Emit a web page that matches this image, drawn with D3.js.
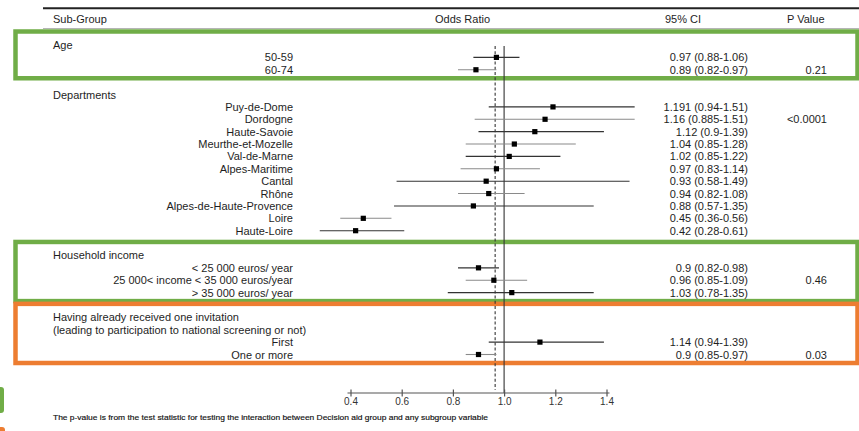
<!DOCTYPE html>
<html><head><meta charset="utf-8">
<script src="https://cdn.jsdelivr.net/npm/d3@7"></script>
<style>
html,body{margin:0;padding:0;background:#fff;}
svg{display:block;font-family:"Liberation Sans",Arial,sans-serif;}
</style></head>
<body><svg id="c" width="859" height="431"></svg>
<script>
// ---- data ----
const headers = ["Sub-Group", "Odds Ratio", "95% CI", "P Value"];
const groupNames = ["Age", "Departments", "Household income",
  "Having already received one invitation|(leading to participation to national screening or not)"];
const ageLabels = ["50-59", "60-74"];
const ageOR = [0.97, 0.89], ageLow = [0.88, 0.82], ageHigh = [1.06, 0.97];
const deptLabels = ["Puy-de-Dome", "Dordogne", "Haute-Savoie", "Meurthe-et-Mozelle", "Val-de-Marne",
  "Alpes-Maritime", "Cantal", "Rhône", "Alpes-de-Haute-Provence", "Loire", "Haute-Loire"];
const deptOR = [1.191, 1.16, 1.12, 1.04, 1.02, 0.97, 0.93, 0.94, 0.88, 0.45, 0.42];
const deptLow = [0.94, 0.885, 0.9, 0.85, 0.85, 0.83, 0.58, 0.82, 0.57, 0.36, 0.28];
const deptHigh = [1.51, 1.51, 1.39, 1.28, 1.22, 1.14, 1.49, 1.08, 1.35, 0.56, 0.61];
const incomeLabels = ["< 25 000 euros/ year", "25 000< income < 35 000 euros/year", "> 35 000 euros/ year"];
const incomeOR = [0.9, 0.96, 1.03], incomeLow = [0.82, 0.85, 0.78], incomeHigh = [0.98, 1.09, 1.35];
const invLabels = ["First", "One or more"];
const invOR = [1.14, 0.9], invLow = [0.94, 0.85], invHigh = [1.39, 0.97];
const pValues = ["0.21", "<0.0001", "0.46", "0.03"];
const overallOR = 0.965;
const tickValues = [0.4, 0.6, 0.8, 1.0, 1.2, 1.4];
const footnote = "The p-value is from the test statistic for testing the interaction between Decision aid group and any subgroup variable";

// ---- build rows ----
const blocks = [
  {labels: ageLabels, or: ageOR, lo: ageLow, hi: ageHigh, pRow: 1},
  {labels: deptLabels, or: deptOR, lo: deptLow, hi: deptHigh, pRow: 1},
  {labels: incomeLabels, or: incomeOR, lo: incomeLow, hi: incomeHigh, pRow: 1},
  {labels: invLabels, or: invOR, lo: invLow, hi: invHigh, pRow: 1}
];
const rows = [];
let k = 0;
const blockRange = [];
blocks.forEach((b, bi) => {
  const start = k;
  groupNames[bi].split("|").forEach(t => { rows.push({type: "head", text: t, idx: k}); k++; });
  b.labels.forEach((l, i) => {
    rows.push({type: "item", text: l, idx: k, or: b.or[i], lo: b.lo[i], hi: b.hi[i], alt: i % 2,
      p: (i === b.pRow ? pValues[bi] : null)});
    k++;
  });
  blockRange.push([start, k - 1]);
  k++; // blank line
});

const svg = d3.select("#c");
const y = d3.scaleLinear().domain([0, 25]).range([45, 354.5]);
const x = d3.scaleLinear().domain([0.4, 1.4]).range([350.5, 606.5]);
const ink = "#1e1e1e";

// top rules
svg.append("line").attr("x1", 43).attr("x2", 859).attr("y1", 8.3).attr("y2", 8.3)
  .attr("stroke", "#222").attr("stroke-width", 2);
svg.append("line").attr("x1", 43).attr("x2", 859).attr("y1", 28.5).attr("y2", 28.5)
  .attr("stroke", "#b5b5b5").attr("stroke-width", 1);

// headers
const hx = [53, 435, 665, 787];
headers.forEach((h, i) => svg.append("text").attr("x", hx[i]).attr("y", 19)
  .attr("dominant-baseline", "central").attr("font-size", 11).attr("fill", ink).text(h));

// highlight boxes
const boxColors = ["#70AD47", null, "#70AD47", "#ED7D31"];
blockRange.forEach((r, bi) => {
  if (!boxColors[bi]) return;
  const top = y(r[0]) - 13.5, bot = y(r[1]) + 8.5;
  svg.append("rect").attr("x", 15.5).attr("y", top).attr("width", 842).attr("height", bot - top)
    .attr("fill", "none").attr("stroke", boxColors[bi]).attr("stroke-width", 4.5);
});
// cut-off shapes at left edge
svg.append("rect").attr("x", -10).attr("y", 387).attr("width", 14).attr("height", 26).attr("rx", 3)
  .attr("fill", "#70AD47");
svg.append("rect").attr("x", -10).attr("y", 427).attr("width", 15).attr("height", 10).attr("rx", 3)
  .attr("fill", "#ED7D31");

// reference lines
const yTopRef = 46, yAxis = 393;
svg.append("line").attr("x1", x(1)).attr("x2", x(1)).attr("y1", yTopRef).attr("y2", yAxis)
  .attr("stroke", "#333").attr("stroke-width", 1.1);
svg.append("line").attr("x1", x(overallOR)).attr("x2", x(overallOR)).attr("y1", yTopRef).attr("y2", 390)
  .attr("stroke", "#333").attr("stroke-width", 1.1).attr("stroke-dasharray", "3,2.2");

// row texts
rows.forEach(r => {
  if (r.type === "head") {
    svg.append("text").attr("x", 53).attr("y", y(r.idx)).attr("dominant-baseline", "central")
      .attr("font-size", 11).attr("fill", ink).text(r.text);
  } else {
    svg.append("text").attr("x", 293).attr("y", y(r.idx)).attr("dominant-baseline", "central")
      .attr("text-anchor", "end").attr("font-size", 11).attr("fill", ink).text(r.text);
    svg.append("text").attr("x", 748).attr("y", y(r.idx)).attr("dominant-baseline", "central")
      .attr("text-anchor", "end").attr("font-size", 11).attr("fill", ink)
      .text(`${r.or} (${r.lo}-${r.hi})`);
    if (r.p) svg.append("text").attr("x", 827).attr("y", y(r.idx)).attr("dominant-baseline", "central")
      .attr("text-anchor", "end").attr("font-size", 11).attr("fill", ink).text(r.p);
  }
});

// CI lines and markers
const items = rows.filter(r => r.type === "item");
svg.append("g").selectAll("line").data(items).join("line")
  .attr("x1", d => x(d.lo)).attr("x2", d => x(d.hi))
  .attr("y1", d => y(d.idx)).attr("y2", d => y(d.idx))
  .attr("stroke", d => d.alt ? "#8a8a8a" : "#333").attr("stroke-width", 1.1);
svg.append("g").selectAll("rect").data(items).join("rect")
  .attr("x", d => x(d.or) - 2.6).attr("y", d => y(d.idx) - 2.6)
  .attr("width", 5.2).attr("height", 5.2).attr("fill", "#000");

// axis
const axis = d3.axisBottom(x).tickValues(tickValues).tickFormat(d3.format(".1f")).tickSize(0).tickPadding(5);
const ag = svg.append("g").attr("transform", `translate(0,${yAxis})`).call(axis);
ag.select(".domain").remove();
ag.append("line").attr("x1", x(0.4) - 3).attr("x2", x(1.4) + 3).attr("stroke", "#555").attr("stroke-width", 1.2);
ag.selectAll(".tick").append("line").attr("y1", -3.5).attr("y2", 3.5).attr("stroke", "#555").attr("stroke-width", 1.2);
ag.selectAll(".tick text").attr("font-size", 10).attr("fill", "#333")
  .attr("font-family", "Liberation Sans, Arial, sans-serif");

// footnote
svg.append("text").attr("x", 53).attr("y", 417).attr("dominant-baseline", "central")
  .attr("font-size", 7.2).attr("fill", "#111").attr("stroke", "#111").attr("stroke-width", 0.15)
  .attr("textLength", 435).attr("lengthAdjust", "spacingAndGlyphs")
  .text(footnote);
</script></body></html>
